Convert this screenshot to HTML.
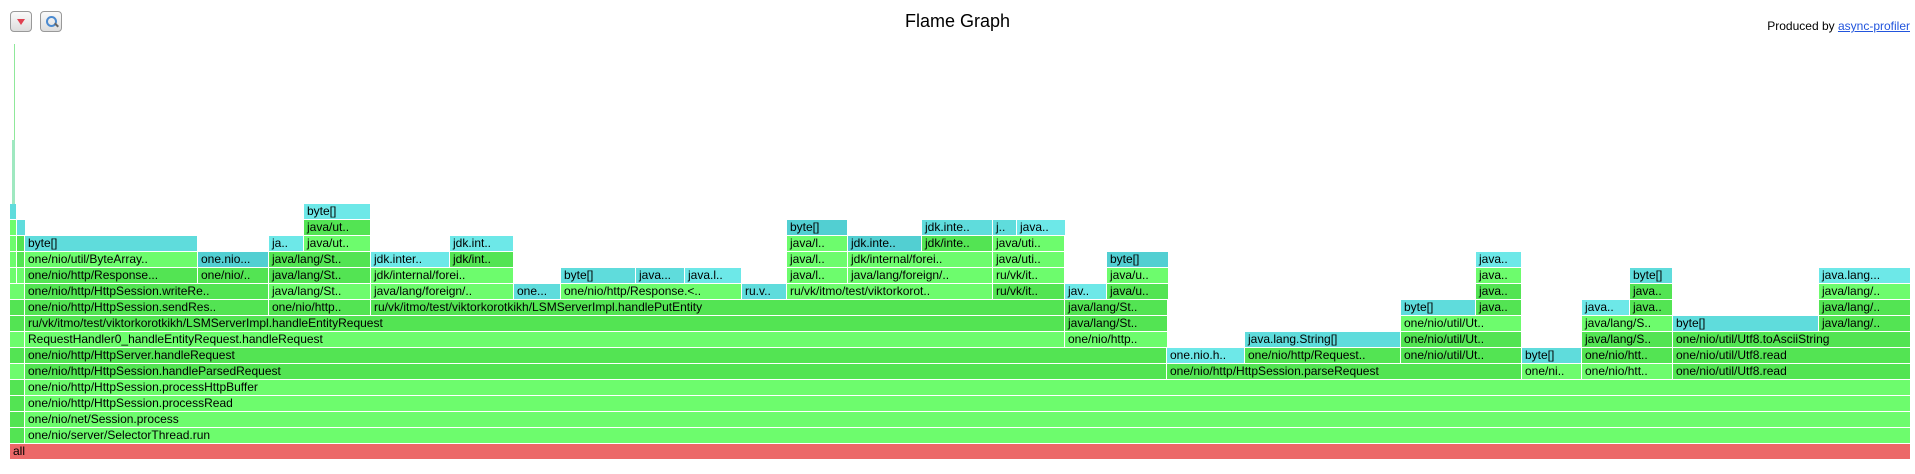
<!DOCTYPE html>
<html><head><meta charset="utf-8"><style>
body{margin:0;width:1915px;height:474px;background:#fff;position:relative;overflow:hidden;font-family:"Liberation Sans",sans-serif}
.f{position:absolute;height:15px;font:12px/15px "Liberation Sans",sans-serif;padding-left:3px;box-sizing:border-box;overflow:hidden;white-space:nowrap;color:#000}
.g1{background:#6dfc6d}.g2{background:#60f060}.g3{background:#53e453}
.c1{background:#5fdcdc}.c2{background:#6de8e8}.c3{background:#52cfd2}
.r{background:#ec6868}
.btn{position:absolute;top:11px;width:22px;height:21px;border:1px solid #999;border-radius:4px;background:linear-gradient(#fafafa,#ddd);box-sizing:border-box}
</style></head><body>
<div class="btn" style="left:10px"><div style="position:absolute;left:6px;top:7px;width:0;height:0;border-left:4px solid transparent;border-right:4px solid transparent;border-top:6px solid #e04050"></div></div>
<div class="btn" style="left:40px"><div style="position:absolute;left:5px;top:4px;width:7px;height:7px;border:2px solid #4a8ad0;border-radius:50%"></div><div style="position:absolute;left:13px;top:12px;width:5px;height:2px;background:#666;transform:rotate(45deg)"></div></div>
<div style="position:absolute;left:0;width:1915px;top:11px;text-align:center;font-size:18px">Flame Graph</div>
<div style="position:absolute;right:5px;top:19px;font-size:12px">Produced by <span style="color:#2255dd;text-decoration:underline">async-profiler</span></div>

<div style="position:absolute;left:14px;top:44px;width:1px;height:160px;background:#8fe89a"></div>
<div style="position:absolute;left:12px;top:140px;width:3px;height:64px;background:#9fe8c0"></div>

<div class="f r" style="left:10px;width:1900px;top:444px">all</div>

<div class="f g3" style="left:10px;width:14px;top:428px"></div><div class="f g1" style="left:25px;width:1885px;top:428px">one/nio/server/SelectorThread.run</div>
<div class="f g3" style="left:10px;width:14px;top:412px"></div><div class="f g1" style="left:25px;width:1885px;top:412px">one/nio/net/Session.process</div>
<div class="f g3" style="left:10px;width:14px;top:396px"></div><div class="f g1" style="left:25px;width:1885px;top:396px">one/nio/http/HttpSession.processRead</div>
<div class="f g3" style="left:10px;width:14px;top:380px"></div><div class="f g1" style="left:25px;width:1885px;top:380px">one/nio/http/HttpSession.processHttpBuffer</div>

<div class="f g1" style="left:10px;width:14px;top:364px"></div>
<div class="f g3" style="left:25px;width:1141px;top:364px">one/nio/http/HttpSession.handleParsedRequest</div>
<div class="f g3" style="left:1167px;width:354px;top:364px">one/nio/http/HttpSession.parseRequest</div>
<div class="f g1" style="left:1522px;width:59px;top:364px">one/ni..</div>
<div class="f g1" style="left:1582px;width:90px;top:364px">one/nio/htt..</div>
<div class="f g3" style="left:1673px;width:237px;top:364px">one/nio/util/Utf8.read</div>

<div class="f g3" style="left:10px;width:14px;top:348px"></div>
<div class="f g3" style="left:25px;width:1141px;top:348px">one/nio/http/HttpServer.handleRequest</div>
<div class="f c2" style="left:1167px;width:77px;top:348px">one.nio.h..</div>
<div class="f g3" style="left:1245px;width:155px;top:348px">one/nio/http/Request..</div>
<div class="f g3" style="left:1401px;width:120px;top:348px">one/nio/util/Ut..</div>
<div class="f c1" style="left:1522px;width:59px;top:348px">byte[]</div>
<div class="f g3" style="left:1582px;width:90px;top:348px">one/nio/htt..</div>
<div class="f g3" style="left:1673px;width:237px;top:348px">one/nio/util/Utf8.read</div>

<div class="f g1" style="left:10px;width:14px;top:332px"></div>
<div class="f g1" style="left:25px;width:1039px;top:332px">RequestHandler0_handleEntityRequest.handleRequest</div>
<div class="f g1" style="left:1065px;width:102px;top:332px">one/nio/http..</div>
<div class="f c1" style="left:1245px;width:155px;top:332px">java.lang.String[]</div>
<div class="f g3" style="left:1401px;width:120px;top:332px">one/nio/util/Ut..</div>
<div class="f g3" style="left:1582px;width:90px;top:332px">java/lang/S..</div>
<div class="f g3" style="left:1673px;width:237px;top:332px">one/nio/util/Utf8.toAsciiString</div>

<div class="f g3" style="left:10px;width:14px;top:316px"></div>
<div class="f g3" style="left:25px;width:1039px;top:316px">ru/vk/itmo/test/viktorkorotkikh/LSMServerImpl.handleEntityRequest</div>
<div class="f g3" style="left:1065px;width:102px;top:316px">java/lang/St..</div>
<div class="f g1" style="left:1401px;width:120px;top:316px">one/nio/util/Ut..</div>
<div class="f g1" style="left:1582px;width:90px;top:316px">java/lang/S..</div>
<div class="f c1" style="left:1673px;width:145px;top:316px">byte[]</div>
<div class="f g3" style="left:1819px;width:91px;top:316px">java/lang/..</div>

<div class="f g3" style="left:10px;width:14px;top:300px"></div>
<div class="f g3" style="left:25px;width:243px;top:300px">one/nio/http/HttpSession.sendRes..</div>
<div class="f g3" style="left:269px;width:101px;top:300px">one/nio/http..</div>
<div class="f g3" style="left:371px;width:693px;top:300px">ru/vk/itmo/test/viktorkorotkikh/LSMServerImpl.handlePutEntity</div>
<div class="f g3" style="left:1065px;width:102px;top:300px">java/lang/St..</div>
<div class="f c1" style="left:1401px;width:74px;top:300px">byte[]</div>
<div class="f g3" style="left:1476px;width:45px;top:300px">java..</div>
<div class="f c2" style="left:1582px;width:47px;top:300px">java..</div>
<div class="f g3" style="left:1630px;width:42px;top:300px">java..</div>
<div class="f g3" style="left:1819px;width:91px;top:300px">java/lang/..</div>

<div class="f g1" style="left:10px;width:14px;top:284px"></div>
<div class="f g3" style="left:25px;width:243px;top:284px">one/nio/http/HttpSession.writeRe..</div>
<div class="f g1" style="left:269px;width:101px;top:284px">java/lang/St..</div>
<div class="f g1" style="left:371px;width:142px;top:284px">java/lang/foreign/..</div>
<div class="f c1" style="left:514px;width:46px;top:284px">one...</div>
<div class="f g1" style="left:561px;width:180px;top:284px">one/nio/http/Response.&lt;..</div>
<div class="f c1" style="left:742px;width:44px;top:284px">ru.v..</div>
<div class="f g1" style="left:787px;width:205px;top:284px">ru/vk/itmo/test/viktorkorot..</div>
<div class="f g3" style="left:993px;width:71px;top:284px">ru/vk/it..</div>
<div class="f c2" style="left:1065px;width:41px;top:284px">jav..</div>
<div class="f g3" style="left:1107px;width:61px;top:284px">java/u..</div>
<div class="f g3" style="left:1476px;width:45px;top:284px">java..</div>
<div class="f g3" style="left:1630px;width:42px;top:284px">java..</div>
<div class="f g1" style="left:1819px;width:91px;top:284px">java/lang/..</div>

<div class="f g1" style="left:10px;width:6px;top:268px"></div><div class="f g1" style="left:17px;width:7px;top:268px"></div>
<div class="f g3" style="left:25px;width:172px;top:268px">one/nio/http/Response...</div>
<div class="f g3" style="left:198px;width:70px;top:268px">one/nio/..</div>
<div class="f g3" style="left:269px;width:101px;top:268px">java/lang/St..</div>
<div class="f g1" style="left:371px;width:142px;top:268px">jdk/internal/forei..</div>
<div class="f c1" style="left:561px;width:74px;top:268px">byte[]</div>
<div class="f c1" style="left:636px;width:48px;top:268px">java...</div>
<div class="f c2" style="left:685px;width:56px;top:268px">java.l..</div>
<div class="f g1" style="left:787px;width:60px;top:268px">java/l..</div>
<div class="f g1" style="left:848px;width:144px;top:268px">java/lang/foreign/..</div>
<div class="f g1" style="left:993px;width:71px;top:268px">ru/vk/it..</div>
<div class="f g1" style="left:1107px;width:61px;top:268px">java/u..</div>
<div class="f g1" style="left:1476px;width:45px;top:268px">java..</div>
<div class="f c1" style="left:1630px;width:42px;top:268px">byte[]</div>
<div class="f c2" style="left:1819px;width:91px;top:268px">java.lang...</div>

<div class="f g1" style="left:10px;width:6px;top:252px"></div><div class="f g3" style="left:17px;width:7px;top:252px"></div>
<div class="f g1" style="left:25px;width:172px;top:252px">one/nio/util/ByteArray..</div>
<div class="f c3" style="left:198px;width:70px;top:252px">one.nio...</div>
<div class="f g3" style="left:269px;width:101px;top:252px">java/lang/St..</div>
<div class="f c2" style="left:371px;width:78px;top:252px">jdk.inter..</div>
<div class="f g3" style="left:450px;width:63px;top:252px">jdk/int..</div>
<div class="f g1" style="left:787px;width:60px;top:252px">java/l..</div>
<div class="f g1" style="left:848px;width:144px;top:252px">jdk/internal/forei..</div>
<div class="f g1" style="left:993px;width:71px;top:252px">java/uti..</div>
<div class="f c3" style="left:1107px;width:61px;top:252px">byte[]</div>
<div class="f c2" style="left:1476px;width:45px;top:252px">java..</div>

<div class="f g1" style="left:10px;width:6px;top:236px"></div><div class="f g3" style="left:17px;width:7px;top:236px"></div>
<div class="f c1" style="left:25px;width:172px;top:236px">byte[]</div>
<div class="f c2" style="left:269px;width:34px;top:236px">ja..</div>
<div class="f g1" style="left:304px;width:66px;top:236px">java/ut..</div>
<div class="f c2" style="left:450px;width:63px;top:236px">jdk.int..</div>
<div class="f g1" style="left:787px;width:60px;top:236px">java/l..</div>
<div class="f c3" style="left:848px;width:73px;top:236px">jdk.inte..</div>
<div class="f g3" style="left:922px;width:70px;top:236px">jdk/inte..</div>
<div class="f g1" style="left:993px;width:71px;top:236px">java/uti..</div>

<div class="f g1" style="left:10px;width:6px;top:220px"></div><div class="f c1" style="left:17px;width:8px;top:220px"></div>
<div class="f g3" style="left:304px;width:66px;top:220px">java/ut..</div>
<div class="f c3" style="left:787px;width:60px;top:220px">byte[]</div>
<div class="f c1" style="left:922px;width:70px;top:220px">jdk.inte..</div>
<div class="f c1" style="left:993px;width:23px;top:220px">j..</div>
<div class="f c2" style="left:1017px;width:48px;top:220px">java..</div>

<div class="f c1" style="left:10px;width:6px;top:204px"></div>
<div class="f c2" style="left:304px;width:66px;top:204px">byte[]</div>
</body></html>
